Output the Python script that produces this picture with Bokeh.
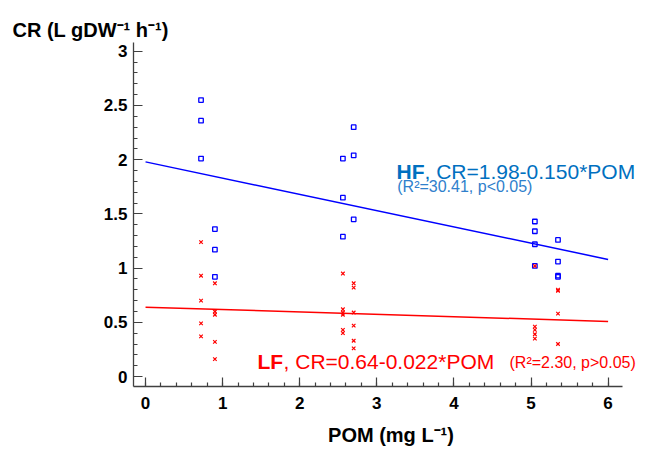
from bokeh.plotting import figure
from bokeh.models import Label, Range1d, FixedTicker, NumeralTickFormatter, Title
from bokeh.embed import file_html
from bokeh.resources import INLINE

# ---- data ----
hf_x = [0.72, 0.72, 0.72, 0.90, 0.90, 0.90,
        2.56, 2.56, 2.56, 2.70, 2.70, 2.70,
        5.05, 5.05, 5.05, 5.05, 5.35, 5.35, 5.35, 5.35]
hf_y = [2.55, 2.36, 2.01, 1.36, 1.17, 0.92,
        2.01, 1.65, 1.29, 2.30, 2.04, 1.45,
        1.43, 1.34, 1.22, 1.02, 1.26, 1.06, 0.93, 0.92]

lf_x = [0.72, 0.72, 0.72, 0.72, 0.72, 0.90, 0.90, 0.90, 0.90, 0.90,
        2.56, 2.56, 2.56, 2.56, 2.56, 2.56, 2.70, 2.70, 2.70, 2.70, 2.70, 2.70,
        5.05, 5.05, 5.05, 5.05, 5.05, 5.35, 5.35, 5.35, 5.35]
lf_y = [1.24, 0.93, 0.70, 0.49, 0.37, 0.86, 0.60, 0.57, 0.32, 0.16,
        0.95, 0.62, 0.59, 0.57, 0.43, 0.40, 0.86, 0.82, 0.59, 0.47, 0.33, 0.26,
        1.02, 0.46, 0.43, 0.39, 0.35, 0.80, 0.79, 0.58, 0.30]

hf_intercept, hf_slope = 1.98, -0.150
lf_intercept, lf_slope = 0.64, -0.022
fit_x = [0, 6]

x_ticks = [0, 1, 2, 3, 4, 5, 6]
x_minor = [i / 5 for i in range(0, 31)]
y_ticks = [0, 0.5, 1, 1.5, 2, 2.5, 3]
y_minor = [i / 10 for i in range(0, 31)]

hf_eq = ", CR=1.98-0.150*POM"
hf_stat = "(R\u00b2=30.41, p<0.05)"
lf_eq = ", CR=0.64-0.022*POM"
lf_stat = "(R\u00b2=2.30, p>0.05)"
y_title = "CR (L gDW\u207b\u00b9 h\u207b\u00b9)"
x_title = "POM (mg L\u207b\u00b9)"

FONT = "Liberation Sans"
AX = "#404040"

p = figure(width=648, height=451, output_backend="svg", toolbar_location=None,
           x_range=Range1d(-0.156, 6.524), y_range=Range1d(-0.092, 3.081),
           min_border_left=133, min_border_right=0, min_border_top=42,
           min_border_bottom=65)
p.outline_line_color = None
p.xgrid.visible = False
p.ygrid.visible = False
p.background_fill_color = "white"

for ax in (p.xaxis[0], p.yaxis[0]):
    ax.axis_line_color = AX
    ax.axis_line_width = 1.3
    ax.major_tick_line_color = AX
    ax.minor_tick_line_color = AX
    ax.major_tick_line_width = 1.2
    ax.minor_tick_line_width = 1.2
    ax.major_tick_in = 9
    ax.major_tick_out = 0
    ax.minor_tick_in = 4
    ax.minor_tick_out = 0
    ax.major_label_text_font = FONT
    ax.major_label_text_font_style = "bold"
    ax.major_label_text_font_size = "17px"
    ax.major_label_text_color = "black"

xa = p.xaxis[0]
xa.ticker = FixedTicker(ticks=x_ticks, minor_ticks=x_minor)
xa.bounds = (-0.156, 6.187)
xa.major_label_standoff = 10
xa.axis_label = x_title
xa.axis_label_standoff = 12
xa.axis_label_text_font = FONT
xa.axis_label_text_font_style = "bold"
xa.axis_label_text_font_size = "20px"
xa.axis_label_text_color = "black"

p.yaxis[0].ticker = FixedTicker(ticks=y_ticks, minor_ticks=y_minor)
p.yaxis[0].formatter = NumeralTickFormatter(format="0.[0]")
p.yaxis[0].major_label_standoff = 6

# regression lines
p.line(fit_x, [hf_intercept + hf_slope * v for v in fit_x], line_color="#0000ff", line_width=1.5)
p.line(fit_x, [lf_intercept + lf_slope * v for v in fit_x], line_color="#ff0000", line_width=1.5)

# points
p.scatter(hf_x, hf_y, marker="square", size=4.5, fill_color=None,
          line_color="#0000ff", line_width=1.3)
p.scatter(lf_x, lf_y, marker="x", size=5, line_color="#ff0000", line_width=1.2)

def lab(x, y, text, size, color, bold=False, x_offset=0, align="left"):
    p.add_layout(Label(x=x, y=y, text=text, x_offset=x_offset,
                       text_font=FONT, text_font_size=size,
                       text_font_style="bold" if bold else "normal",
                       text_color=color, text_align=align,
                       text_baseline="alphabetic"))

HF_C = "#0070C0"
LF_C = "#ff0000"
lab(3.255, 1.892, "HF", "21px", HF_C, bold=True)
lab(3.255, 1.892, hf_eq, "21px", HF_C, x_offset=28)
lab(3.265, 1.752, hf_stat, "16px", "#2f80cc")

lab(1.453, 0.139, "LF", "21px", LF_C, bold=True)
lab(1.453, 0.139, lf_eq, "21px", LF_C, x_offset=26)
lab(4.721, 0.125, lf_stat, "16px", LF_C)

# y axis title (horizontal, top-left)
p.add_layout(Title(text=y_title, align="left", offset=-121, standoff=0,
                   vertical_align="top",
                   text_font=FONT, text_font_style="bold", text_font_size="20px",
                   text_color="black"), "above")

open("out.html", "w").write(file_html(p, INLINE))
